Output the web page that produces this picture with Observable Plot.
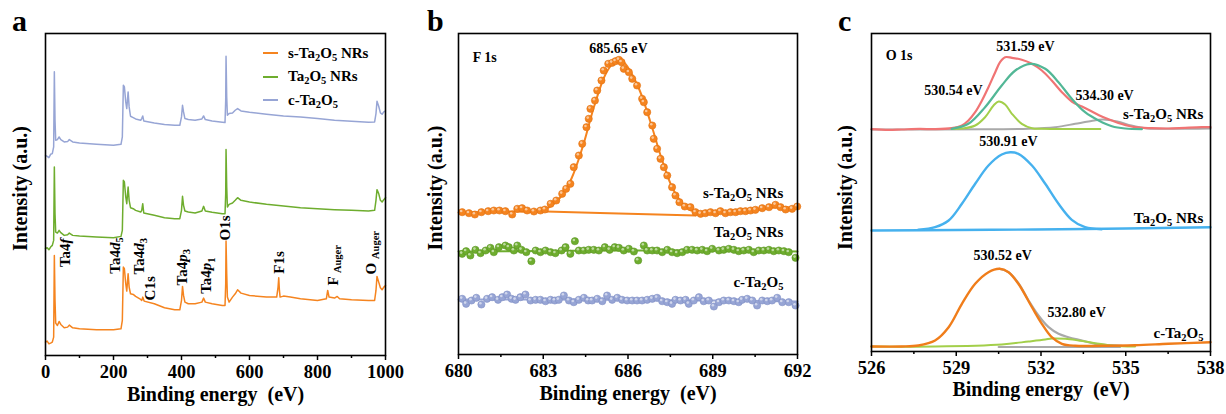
<!DOCTYPE html>
<html><head><meta charset="utf-8">
<script src="https://cdn.jsdelivr.net/npm/d3@7"></script>
<script src="https://cdn.jsdelivr.net/npm/@observablehq/plot@0.6"></script>
<style>
body{margin:0;background:#fff;}
#wrap{position:relative;width:1226px;height:414px;font-family:"Liberation Serif",serif;font-weight:bold;color:#000;}
.panel{position:absolute;top:0;}
.letter{position:absolute;top:6px;font-size:30px;font-weight:bold;line-height:1;}
.legend{position:absolute;left:263px;top:41.5px;font-size:15px;}
.legend div{height:23.5px;display:flex;align-items:center;white-space:nowrap;}
.legend span.sw{display:inline-block;width:15px;height:2px;margin-right:10px;}
.legend sub{font-size:70%;line-height:0;vertical-align:-0.3em;}
svg text{white-space:pre;}
</style></head>
<body>
<div id="wrap">
  <div class="panel" id="pa" style="left:0px"></div>
  <div class="panel" id="pb" style="left:420px"></div>
  <div class="panel" id="pc" style="left:820px"></div>
  <div class="letter" style="left:12px">a</div>
  <div class="letter" style="left:427px">b</div>
  <div class="letter" style="left:838px">c</div>
  <div class="legend" id="legA"></div>
</div>
<script>
// ---------- colours ----------
const colS = "#F5841F", colN = "#6EAD2E", colC = "#97A5D5";
const colRed = "#F07474", colTeal = "#52B796", colLime = "#A3CF4A", colGray = "#A9A9A9", colBlue = "#46B1EE", colOrange = "#F07D1A";

// ---------- panel a: survey spectra (binding energy eV, stacked intensity a.u.) ----------
const surveyS = [[0,40],[5,43],[10,35],[15,37],[20,40],[24,55],[26,300],[28,165],[30,97],[35,90],[40,102],[45,93],[55,83],[65,85],[70,91],[80,83],[100,80],[150,77],[200,77],[222,80],[226,105],[229,265],[232,260],[236,215],[239,193],[243,245],[246,205],[250,185],[258,183],[265,177],[280,168],[283,165],[286,175],[290,163],[320,155],[350,143],[380,137],[395,137],[400,165],[403,207],[406,180],[410,160],[420,155],[440,155],[460,160],[465,172],[470,160],[490,155],[520,150],[528,150],[530,215],[531,343],[533,245],[535,175],[540,160],[550,175],[558,185],[565,197],[575,187],[600,180],[650,175],[680,175],[684,205],[686,233],[688,195],[690,175],[700,178],[720,175],[750,170],[800,165],[826,170],[830,195],[834,175],[850,172],[858,177],[865,170],[900,167],[950,165],[968,165],[972,195],[975,237],[980,220],[985,203],[990,197],[995,205],[1000,210]];
const surveyN = [[0,320],[5,323],[10,317],[15,325],[20,330],[24,345],[26,565],[28,425],[30,370],[35,367],[40,375],[45,368],[55,360],[65,362],[70,367],[80,360],[100,358],[150,355],[200,353],[222,357],[226,375],[229,525],[232,520],[236,475],[239,455],[243,505],[246,465],[250,443],[258,440],[265,435],[280,430],[283,435],[286,455],[289,427],[320,420],[350,413],[380,410],[395,410],[400,435],[403,477],[406,450],[410,433],[420,430],[440,427],[460,433],[465,447],[470,433],[490,429],[520,425],[528,425],[530,485],[531,617],[533,505],[535,445],[540,453],[550,457],[558,465],[565,473],[575,465],[600,460],[650,453],[700,448],[750,443],[800,440],[850,437],[900,435],[950,433],[968,435],[972,465],[975,497],[980,485],[985,465],[990,460],[995,467],[1000,473]];
const surveyC = [[0,600],[5,597],[10,593],[15,603],[20,605],[24,625],[26,850],[28,705],[30,645],[35,647],[40,655],[45,647],[55,640],[65,641],[70,647],[80,640],[100,637],[150,633],[200,630],[222,633],[226,655],[229,810],[232,805],[236,760],[239,740],[243,790],[246,745],[250,717],[258,713],[265,709],[280,705],[283,710],[286,718],[289,703],[320,697],[350,692],[380,690],[395,690],[400,715],[403,750],[406,730],[410,710],[420,707],[440,705],[460,709],[465,718],[470,707],[490,703],[520,699],[528,698],[530,765],[531,897],[533,775],[535,720],[540,725],[550,727],[558,735],[565,740],[575,733],[600,729],[650,723],[700,718],[750,715],[800,710],[850,705],[900,702],[950,699],[968,700],[972,725],[975,762],[980,747],[985,727],[990,723],[995,730],[1000,733]];
const aPeakNames = ["Ta4*f*","Ta4*d*_{5}","Ta4*d*_{3}","C1s","Ta4*p*_{3}","Ta4*p*_{1}","O1s","F1s","F _{Auger}","O _{Auger}"];
const aPeakX = [59,206,275,307,403,474,528,688,846,957];
const aPeakY = [265,245,243,165,210,185,345,245,210,243];
const aTicks = [0,200,400,600,800,1000];
const aMinor = [100,300,500,700,900];
const legendNames = ["s-Ta<sub>2</sub>O<sub>5</sub> NRs","Ta<sub>2</sub>O<sub>5</sub> NRs","c-Ta<sub>2</sub>O<sub>5</sub>"];
const legendColors = [colS, colN, colC];

// ---------- panel b: F 1s ----------
const bDotsS = [[680.13,142.3],[680.37,141.3],[680.58,140],[680.81,142.3],[681.05,143.3],[681.25,144],[681.45,144],[681.66,143.3],[681.90,140],[682.08,145.7],[682.25,146.3],[682.43,144],[682.67,143],[682.90,144],[683.06,145],[683.26,150.7],[683.46,154],[683.67,160.7],[683.81,165.7],[683.96,170.7],[684.08,187.3],[684.26,199],[684.38,210.7],[684.53,227.3],[684.61,235.7],[684.67,245.7],[684.83,254],[684.91,264],[685.06,274],[685.14,284],[685.30,290.7],[685.44,291.7],[685.56,293.3],[685.68,294.7],[685.77,292.3],[685.85,285.7],[686.03,282.3],[686.15,275.7],[686.32,269],[686.50,255.7],[686.56,252.3],[686.68,242.3],[686.86,229],[686.91,215.7],[687.03,205.7],[687.15,195.7],[687.27,187.3],[687.39,179],[687.56,167.3],[687.68,159],[687.82,152.3],[688.01,148],[688.21,147.3],[688.39,142.3],[688.57,140.7],[688.74,141.3],[688.92,142.3],[689.10,141.3],[689.27,143.3],[689.45,141.3],[689.63,142.3],[689.81,142.3],[689.98,143.3],[690.16,143.3],[690.34,144],[690.51,144.7],[690.75,146.3],[690.99,147.3],[691.22,149.7],[691.40,147.3],[691.58,145],[691.81,145.7],[691.99,148]];
const bFitS = [[680,142],[681,142.5],[682,143],[682.8,143],[683.2,147],[683.6,157],[684,176],[684.4,208],[684.8,248],[685.2,280],[685.5,292],[685.75,294.5],[686,287],[686.4,265],[686.8,232],[687.2,195],[687.6,165],[688,149],[688.4,142],[688.8,141],[689.5,142],[690.5,144],[691.2,147],[692,147]];
const bBaseS = [[683.1,143],[685,141.5],[688.4,139]];
const bDotsN = [[680.13,100.7],[680.27,103.3],[680.42,99],[680.60,104.7],[680.78,101.3],[680.96,104],[681.13,106.7],[681.25,102.3],[681.43,107.3],[681.66,109],[681.78,107.3],[681.96,104],[682.08,109],[682.23,104.7],[682.40,102.3],[682.58,93.3],[682.73,104],[682.90,102.3],[683.08,104],[683.26,102.3],[683.43,101.3],[683.65,104],[683.79,107.3],[683.96,100.7],[684.12,113.3],[684.26,104],[684.44,104],[684.61,104.7],[684.79,104.7],[684.97,104],[685.18,107.3],[685.35,104.7],[685.53,107.3],[685.68,106.7],[685.85,104],[686.03,105.7],[686.21,103],[686.36,94],[686.56,109],[686.68,104],[686.86,104],[687.03,104],[687.21,102.3],[687.39,104.7],[687.56,102.3],[687.74,101.3],[687.92,102.3],[688.09,104.7],[688.27,104.7],[688.45,104],[688.63,104.7],[688.80,103.3],[688.98,105.7],[689.22,104],[689.39,104.7],[689.57,105.7],[689.75,104.7],[689.92,103.3],[690.10,104],[690.28,104.7],[690.45,102.3],[690.63,104],[690.81,104],[690.99,104.7],[691.16,103.3],[691.34,104],[691.52,103.3],[691.69,102.3],[691.93,96.7]];
const bFitN = [[680,103],[683,103.5],[686,104],[689,104],[692,103]];
const bDotsC = [[680.13,55.7],[680.27,50.7],[680.46,54],[680.63,56.7],[680.81,50],[681.01,55.7],[681.19,57.3],[681.40,54.7],[681.55,57.3],[681.72,60],[681.88,55.7],[682.02,54.7],[682.19,57.3],[682.37,60],[682.55,54],[682.73,54.7],[682.90,54.7],[683.08,53.3],[683.26,54.7],[683.41,54],[683.55,54.7],[683.73,59],[683.91,54],[684.08,52.3],[684.26,54.7],[684.44,56.7],[684.59,54],[684.73,54],[684.91,55.7],[685.09,53.3],[685.26,59],[685.44,54.7],[685.62,56.7],[685.79,54.7],[685.97,54],[686.15,54],[686.32,54],[686.50,54],[686.68,54.7],[686.86,55.7],[687.03,56.7],[687.21,53.3],[687.39,52.3],[687.56,50.7],[687.68,54.7],[687.86,54],[688.04,54.7],[688.15,50.7],[688.33,54],[688.51,57.3],[688.68,53.3],[688.86,54],[689.04,48],[689.22,52.3],[689.39,54],[689.57,54],[689.75,53.3],[689.92,52.3],[690.04,54.7],[690.22,55.7],[690.40,54],[690.57,49],[690.75,54],[690.93,53.3],[691.10,54],[691.28,56.7],[691.46,52.3],[691.69,52.3],[691.93,49]];
const bFitC = [[680,55],[683,55],[686,54.5],[689,54],[692,53]];
const bLabelText = ["F 1s","685.65 eV","s-Ta_{2}O_{5} NRs","Ta_{2}O_{5} NRs","c-Ta_{2}O_{5}"];
const bLabelX = [680.5,685.66,691.5,691.5,691.5];
const bLabelY = [297,306,161,122,72];
const bLabelAnchor = ["start","middle","end","end","end"];
const bLabelSize = [14,14,15,15,15];
const bTicks = [680,683,686,689,692];
const bMinor = [681.5,684.5,687.5,690.5];

// ---------- panel c: O 1s ----------
const cEnvS = [[526,222.3],[526.6,221.6],[527.07,222],[527.7,222.6],[528.25,222.3],[528.84,223.3],[529.2,226],[529.43,231],[529.67,239.3],[529.91,251],[530.14,264.3],[530.38,279.3],[530.55,289.3],[530.73,294.3],[530.97,293.7],[531.32,291.7],[531.68,287.7],[532.03,281],[532.38,271],[532.74,259.3],[533.09,250],[533.45,245],[533.8,240],[534.15,235],[534.51,231],[534.86,227.5],[535.33,224.3],[535.92,223.3],[536.51,223],[537.1,223.7],[537.69,224.3],[538,224.3]];
const cTealS = [[528.84,222.7],[529.43,227.7],[530.02,244.3],[530.61,266],[531.09,281],[531.62,287.7],[532.15,282.7],[532.62,269.3],[533.09,252.7],[533.56,239.3],[534.04,231],[534.51,225.3],[534.98,223],[535.57,222.3]];
const cLimeS = [[528.84,222.5],[529.2,222.9],[529.67,226],[530.02,234.3],[530.32,246],[530.5,250],[530.73,247],[530.97,237.7],[531.32,227.7],[531.68,223.3],[532.03,222.7],[534.1,222.5]];
const cGrayS = [[526,222],[530,222.2],[531.56,222.7],[532.5,224.3],[533.21,227.7],[533.68,230],[534.2,232],[534.7,230],[535.2,226],[535.69,223.3],[536.28,222.7],[538,223]];
const cBlueBase = [[526,121],[529,121.5],[531.79,122],[535,123],[538,124.3]];
const cBlueN = [[527.66,121.7],[528.25,124.3],[528.73,131],[529.2,147.7],[529.67,167.7],[530.14,186],[530.61,197],[530.91,199.3],[531.2,197.7],[531.68,186],[532.15,167.7],[532.62,147.7],[533.09,131.7],[533.56,124.3],[534.15,122.3]];
const cOrangeC = [[526,5],[527.07,5],[527.66,6],[528.25,11],[528.73,24.3],[529.2,47.7],[529.67,67.7],[530.14,79.3],[530.53,82.7],[530.85,79.3],[531.2,67.7],[531.68,44.3],[532.03,27.7],[532.38,14.3],[532.74,7.7],[533.21,5.7],[534.15,5.7],[535.33,6.3],[536.51,7.7],[538,9.3]];
const cGrayEnvC = [[530.53,82.7],[530.85,79.3],[531.2,68.3],[531.56,51],[531.91,36],[532.27,24.3],[532.62,17.7],[532.97,14.3],[533.45,11],[533.92,7.7],[534.39,6.3],[534.86,5.7]];
const cGrayBaseC = [[530.5,4.5],[534.8,4.5]];
const cLimeC = [[526,5],[528.25,5],[530.61,7],[531.56,10],[532.15,12],[532.38,13],[532.86,12.7],[533.33,11],[533.92,8.3],[534.39,6.3],[534.86,5.3],[535.33,5]];
const cLabelText = ["O 1s","531.59 eV","530.54 eV","534.30 eV","s-Ta_{2}O_{5} NRs","530.91 eV","Ta_{2}O_{5} NRs","530.52 eV","532.80 eV","c-Ta_{2}O_{5}"];
const cLabelX = [526.5,531.45,528.9,534.25,537.75,530.85,537.75,530.64,533.26,537.75];
const cLabelY = [296,305,261,256,237,210,133,96,39,18];
const cLabelAnchor = ["start","middle","middle","middle","end","middle","end","middle","middle","end"];
const cLabelSize = [14,14,14,14,15,14,15,14,14,15];
const cTicks = [526,529,532,535,538];
const cMinor = [527.5,530.5,533.5,536.5];

// ---------- helpers ----------
const FONT = "Liberation Serif";
const pts = arr => arr.map(([x, y]) => ({x, y}));
const labels = (t, xs, ys, an, fs) => t.map((s, i) => ({s, x: xs[i], y: ys[i], a: an ? an[i] : "start", f: fs ? fs[i] : 15}));
const NS = "http://www.w3.org/2000/svg";
function richify(svg) {
  svg.querySelectorAll("text").forEach(t => {
    if (t.querySelector("tspan")) return;
    const s = t.textContent;
    if (!/[_*]/.test(s)) return;
    while (t.firstChild) t.removeChild(t.firstChild);
    const re = /_\{([^}]*)\}|\*([^*]*)\*|([^_*]+)/g;
    let m, shifted = false;
    while ((m = re.exec(s))) {
      const ts = document.createElementNS(NS, "tspan");
      if (m[1] !== undefined) {
        ts.textContent = m[1];
        ts.setAttribute("font-size", "70%");
        if (!shifted) { ts.setAttribute("dy", "0.3em"); shifted = true; }
      } else {
        ts.textContent = m[2] !== undefined ? m[2] : m[3];
        if (m[2] !== undefined) ts.setAttribute("font-style", "italic");
        if (shifted) { ts.setAttribute("dy", "-0.21em"); shifted = false; }
      }
      t.appendChild(ts);
    }
  });
}
const baseStyle = {fontFamily: FONT, fontWeight: "bold", fontSize: "18px", background: "transparent", overflow: "visible", color: "black"};
function axes(major, minor) {
  return [
    Plot.axisX({ticks: major, tickSize: 5, tickPadding: 4, strokeWidth: 1.5, label: null, fontSize: 18.5, fontWeight: "bold", fontFamily: FONT, tickFormat: d => String(d)}),
    Plot.axisX({ticks: minor, tickSize: 3, tickFormat: () => "", strokeWidth: 1.5, label: null}),
    Plot.frame({stroke: "black", strokeWidth: 1.6})
  ];
}
function titles(dxY, dyY, dyX) {
  return [
    Plot.text(["Intensity (a.u.)"], {text: d => d, frameAnchor: "left", textAnchor: "middle", dx: dxY, dy: dyY, rotate: -90, fontSize: 20, fontWeight: "bold", fontFamily: FONT}),
    Plot.text(["Binding energy  (eV)"], {text: d => d, frameAnchor: "bottom", textAnchor: "middle", dy: dyX, fontSize: 20, fontWeight: "bold", fontFamily: FONT})
  ];
}
const ln = (arr, color, w) => Plot.line(pts(arr), {x: "x", y: "y", stroke: color, strokeWidth: w, curve: "linear"});
const sm = (arr, color, w) => Plot.line(pts(arr), {x: "x", y: "y", stroke: color, strokeWidth: w, curve: "catmull-rom"});
function dots(arr, color, edge) {
  return [
    Plot.dot(pts(arr), {x: "x", y: "y", r: 3.6, fill: color, stroke: edge, strokeWidth: 0.6}),
    Plot.dot(pts(arr), {x: "x", y: "y", r: 1.3, fill: "white", fillOpacity: 0.55, dx: -1, dy: -1.2})
  ];
}
function annot(list) {
  const groups = d3.groups(list, d => d.a, d => d.f);
  return groups.flatMap(([a, byF]) => byF.map(([f, items]) =>
    Plot.text(items, {x: "x", y: "y", text: "s", textAnchor: a, fontSize: f, fontWeight: "bold", fontFamily: FONT})));
}

// ---------- panel a ----------
const pa = Plot.plot({
  width: 420, height: 414, marginLeft: 45, marginRight: 35, marginTop: 33, marginBottom: 59,
  x: {domain: [0, 1000]}, y: {domain: [0, 965], axis: null},
  style: baseStyle,
  marks: [
    ln(surveyC, colC, 1.5),
    ln(surveyN, colN, 1.5),
    ln(surveyS, colS, 1.5),
    ...axes(aTicks, aMinor),
    Plot.text(labels(aPeakNames, aPeakX, aPeakY), {x: "x", y: "y", text: "s", rotate: -90, textAnchor: "start", fontSize: 15, fontWeight: "bold", fontFamily: FONT}),
    ...titles(-25, -6, 45)
  ]
});
richify(pa);
document.getElementById("pa").appendChild(pa);
document.getElementById("legA").innerHTML = legendNames.map((n, i) =>
  `<div><span class="sw" style="background:${legendColors[i]}"></span><span>${n}</span></div>`).join("");

// ---------- panel b ----------
const pb = Plot.plot({
  width: 400, height: 414, marginLeft: 38, marginRight: 23, marginTop: 33, marginBottom: 60,
  x: {domain: [680, 692]}, y: {domain: [0, 321], axis: null},
  style: baseStyle,
  marks: [
    sm(bFitC, colC, 2), ...dots(bDotsC, colC, "#7f8fc4"),
    sm(bFitN, colN, 2), ...dots(bDotsN, colN, "#5a9524"),
    ln(bBaseS, colS, 1.8), sm(bFitS, colS, 2), ...dots(bDotsS, colS, "#e07010"),
    ...axes(bTicks, bMinor),
    ...annot(labels(bLabelText, bLabelX, bLabelY, bLabelAnchor, bLabelSize)),
    ...titles(-23, -6, 45)
  ]
});
richify(pb);
document.getElementById("pb").appendChild(pb);

// ---------- panel c ----------
const pc = Plot.plot({
  width: 406, height: 414, marginLeft: 51, marginRight: 16, marginTop: 33, marginBottom: 63,
  x: {domain: [526, 538]}, y: {domain: [0, 318], axis: null},
  style: baseStyle,
  marks: [
    sm(cGrayS, colGray, 2), sm(cLimeS, colLime, 2), sm(cEnvS, colRed, 2.2), sm(cTealS, colTeal, 2.2),
    sm(cBlueBase, colBlue, 2.4), sm(cBlueN, colBlue, 2.4),
    ln(cGrayBaseC, colGray, 2), sm(cGrayEnvC, colGray, 2.2), sm(cLimeC, colLime, 2), sm(cOrangeC, colOrange, 2.4),
    ...axes(cTicks, cMinor),
    ...annot(labels(cLabelText, cLabelX, cLabelY, cLabelAnchor, cLabelSize)),
    ...titles(-26, -5, 44)
  ]
});
richify(pc);
document.getElementById("pc").appendChild(pc);
</script>
</body></html>
